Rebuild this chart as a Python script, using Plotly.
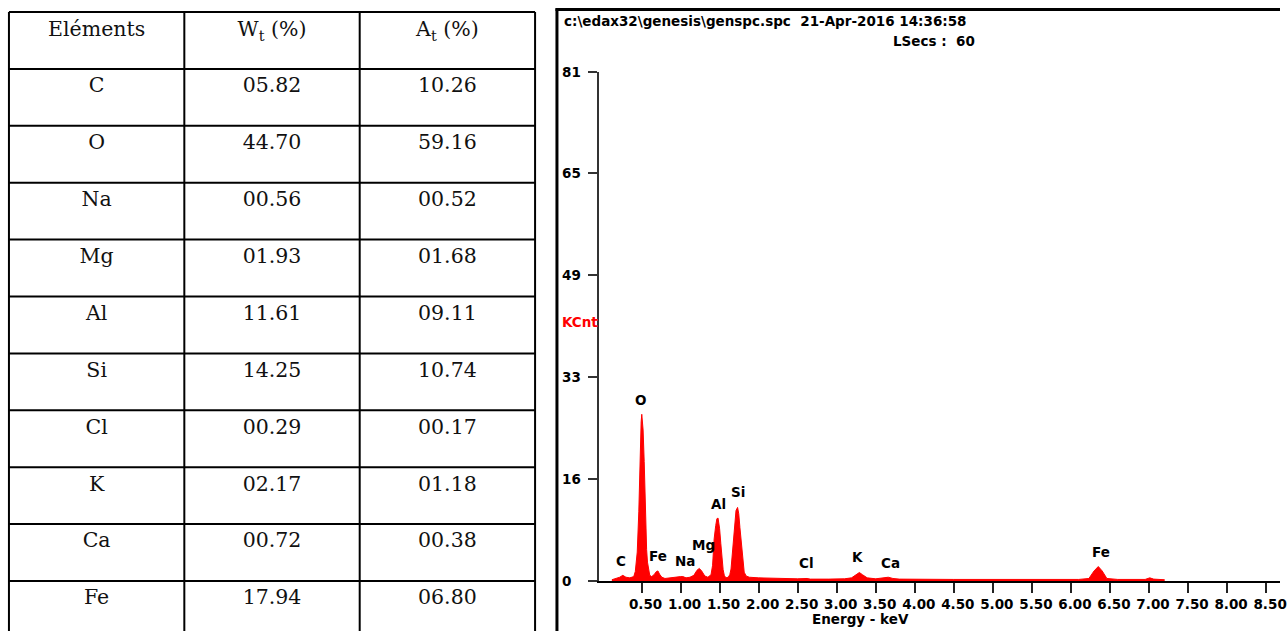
import plotly.graph_objects as go

# ---------------- data ----------------
table_header = ["Eléments", "W<sub>t</sub> (%)", "A<sub>t</sub> (%)"]
elements = ["C", "O", "Na", "Mg", "Al", "Si", "Cl", "K", "Ca", "Fe"]
wt_pct = ["05.82", "44.70", "00.56", "01.93", "11.61", "14.25", "00.29", "02.17", "00.72", "17.94"]
at_pct = ["10.26", "59.16", "00.52", "01.68", "09.11", "10.74", "00.17", "01.18", "00.38", "06.80"]

energy_kev = [0.12, 0.18, 0.22, 0.26, 0.30, 0.35, 0.40, 0.42, 0.445, 0.465, 0.483, 0.495, 0.503,
              0.512, 0.52, 0.534, 0.545, 0.554, 0.565, 0.576, 0.59, 0.605, 0.63, 0.66, 0.69, 0.71,
              0.73, 0.76, 0.80, 0.85, 0.90, 0.95, 1.00, 1.03, 1.07, 1.12, 1.17, 1.21, 1.24, 1.27,
              1.31, 1.35, 1.39, 1.41, 1.43, 1.45, 1.465, 1.48, 1.50, 1.515, 1.527, 1.545, 1.56,
              1.58, 1.61, 1.63, 1.646, 1.665, 1.68, 1.695, 1.71, 1.73, 1.745, 1.76, 1.78, 1.80,
              1.815, 1.84, 1.88, 2.00, 2.20, 2.30, 2.50, 2.62, 2.66, 2.90, 3.10, 3.19, 3.25, 3.29,
              3.33, 3.39, 3.50, 3.60, 3.66, 3.72, 3.80, 4.50, 5.50, 6.10, 6.23, 6.296, 6.35, 6.40,
              6.46, 6.60, 6.95, 7.01, 7.06, 7.20]
counts_kcnt = [0.2, 0.4, 0.6, 0.9, 0.6, 0.5, 0.7, 1.5, 4.6, 11.0, 21.0, 25.3, 26.5,
               25.6, 24.0, 19.0, 13.0, 8.4, 5.0, 3.0, 1.5, 0.9, 0.7, 1.0, 1.5, 1.6,
               1.1, 0.6, 0.4, 0.5, 0.5, 0.6, 0.7, 0.7, 0.5, 0.6, 0.9, 1.7, 2.0, 1.6,
               0.8, 0.6, 1.0, 2.5, 6.7, 8.8, 9.9, 10.0, 8.3, 6.0, 4.1, 1.8, 0.9,
               0.5, 0.6, 1.0, 1.9, 4.5, 7.3, 9.8, 11.2, 11.7, 10.7, 8.5, 5.7, 3.0,
               1.4, 0.8, 0.6, 0.5, 0.45, 0.35, 0.35, 0.4, 0.3, 0.3, 0.35, 0.5, 1.0, 1.35,
               1.0, 0.5, 0.35, 0.45, 0.6, 0.4, 0.3, 0.25, 0.25, 0.25, 0.4, 1.6, 2.3, 1.6,
               0.4, 0.25, 0.25, 0.5, 0.3, 0.2]

peak_names = ["C", "O", "Fe", "Na", "Mg", "Al", "Si", "Cl", "K", "Ca", "Fe"]
peak_label_kev = [0.232, 0.487, 0.716, 1.06, 1.30, 1.48, 1.74, 2.61, 3.26, 3.69, 6.38]
peak_label_kcnt = [3.2, 28.8, 4.0, 3.2, 5.7, 12.2, 14.1, 2.9, 3.8, 2.9, 4.6]

y_tickvals = [0, 16.2, 32.4, 48.6, 64.8, 81]
y_ticktext = ["0", "16", "33", "49", "65", "81"]
x_tickvals = [0.5, 1.0, 1.5, 2.0, 2.5, 3.0, 3.5, 4.0, 4.5, 5.0, 5.5, 6.0, 6.5, 7.0, 7.5, 8.0, 8.5]
x_ticktext = ["0.50", "1.00", "1.50", "2.00", "2.50", "3.00", "3.50", "4.00", "4.50", "5.00",
              "5.50", "6.00", "6.50", "7.00", "7.50", "8.00", "8.50"]

header_text = "c:\\edax32\\genesis\\genspc.spc\u00a0\u00a021-Apr-2016 14:36:58"
lsecs_text = "LSecs :\u00a0\u00a060"

# ---------------- layout helpers ----------------
W, H = 1287, 631


def fx(p):
    return p / W


def fy(p):
    return 1 - p / H


SANS = "DejaVu Sans"
SERIF = "DejaVu Serif"
BOLD13 = dict(family=SANS, size=13.5, color="black", weight="bold")

fig = go.Figure()

# spectrum
fig.add_trace(go.Scatter(
    x=energy_kev, y=counts_kcnt, mode="lines", fill="tozeroy",
    line=dict(color="#ff0000", width=1), fillcolor="#ff0000",
    xaxis="x", yaxis="y", hoverinfo="skip", showlegend=False))

# table text
n_rows = len(elements)
tab_x, tab_y, tab_t = [], [], []
for j, h in enumerate(table_header):
    tab_x.append(j + 0.5)
    tab_y.append(0.34)
    tab_t.append(h)
for i in range(n_rows):
    for j, v in enumerate([elements[i], wt_pct[i], at_pct[i]]):
        tab_x.append(j + 0.5)
        tab_y.append(i + 1 + 0.32)
        tab_t.append(v)
fig.add_trace(go.Scatter(
    x=tab_x, y=tab_y, text=tab_t, mode="text", xaxis="x2", yaxis="y2",
    textfont=dict(family=SERIF, size=20.5, color="#111"), cliponaxis=False,
    hoverinfo="skip", showlegend=False))

shapes = []
# table grid lines (data coordinates of the table axis)
for i in range(n_rows + 2):
    shapes.append(dict(type="line", xref="x2", yref="y2", x0=0, x1=3, y0=i, y1=i,
                       line=dict(color="black", width=2)))
for j in range(4):
    shapes.append(dict(type="line", xref="x2", yref="y2", x0=j, x1=j, y0=0, y1=n_rows + 1,
                       line=dict(color="black", width=2)))
# spectrum frame
shapes.append(dict(type="line", xref="paper", yref="paper", x0=fx(560), x1=fx(560), y0=0, y1=fy(8.5),
                   line=dict(color="black", width=3)))
shapes.append(dict(type="line", xref="paper", yref="paper", x0=fx(558.5), x1=1, y0=fy(9.5), y1=fy(9.5),
                   line=dict(color="black", width=3)))

annotations = []
annotations.append(dict(text=header_text, xref="paper", yref="paper", x=fx(565), y=fy(21),
                        xanchor="left", yanchor="middle", showarrow=False,
                        font=dict(family=SANS, size=13.5, color="black", weight="bold")))
annotations.append(dict(text=lsecs_text, xref="paper", yref="paper", x=fx(982), y=fy(41),
                        xanchor="right", yanchor="middle", showarrow=False,
                        font=dict(family=SANS, size=13.5, color="black", weight="bold")))
annotations.append(dict(text="KCnt", xref="paper", yref="paper", x=fx(563), y=fy(322),
                        xanchor="left", yanchor="middle", showarrow=False,
                        font=dict(family=SANS, size=13.5, color="#ff0000", weight="bold")))
for v, t in zip(y_tickvals, y_ticktext):
    annotations.append(dict(text=t, xref="paper", yref="y", x=fx(563), y=v,
                            xanchor="left", yanchor="middle", showarrow=False, font=BOLD13))
for n, xe, yc in zip(peak_names, peak_label_kev, peak_label_kcnt):
    annotations.append(dict(text=n, xref="x", yref="y", x=xe, y=yc,
                            xanchor="center", yanchor="middle", showarrow=False, font=BOLD13))
annotations.append(dict(text="Energy - keV", xref="x", yref="paper", x=3.31, y=fy(619),
                        xanchor="center", yanchor="middle", showarrow=False, font=BOLD13))

# axis geometry (pixels)
x0_px, kev_px = 605.8, 78.5
ax_left, ax_right = 602, 1287
y0_px, ytop_px = 581, 71.5

tab_l, tab_r, tab_top, row_h = 9, 538, 12, 56.9
col_w = (tab_r - tab_l) / 3

fig.update_layout(
    width=W, height=H, margin=dict(l=0, r=0, t=0, b=0),
    paper_bgcolor="white", plot_bgcolor="white", showlegend=False,
    shapes=shapes, annotations=annotations,
    xaxis=dict(domain=[fx(ax_left), 1],
               range=[(ax_left - x0_px) / kev_px, (ax_right - x0_px) / kev_px],
               anchor="y", showgrid=False, zeroline=False,
               showline=True, linecolor="black", linewidth=1.5,
               ticks="outside", ticklen=10, tickwidth=1.5, tickcolor="#222",
               tickvals=x_tickvals, ticktext=x_ticktext, ticklabelshift=4,
               ticklabeloverflow="allow",
               tickfont=BOLD13),
    yaxis=dict(domain=[fy(y0_px), fy(ytop_px)], range=[0, 81], anchor="x",
               showgrid=False, zeroline=False,
               showline=True, linecolor="#333", linewidth=1.5,
               ticks="outside", ticklen=9, tickwidth=1.5, tickcolor="#333",
               tickvals=y_tickvals, showticklabels=False),
    xaxis2=dict(domain=[fx(tab_l - 2), fx(tab_r + 2)],
                range=[-2 / col_w, 3 + 2 / col_w], anchor="y2", visible=False),
    yaxis2=dict(domain=[0, fy(tab_top - 2)],
                range=[(H - tab_top) / row_h, -2 / row_h], anchor="x2", visible=False),
)

fig.write_html("out.html", config={"displayModeBar": False},
               post_script="document.body.style.margin='0px';")
